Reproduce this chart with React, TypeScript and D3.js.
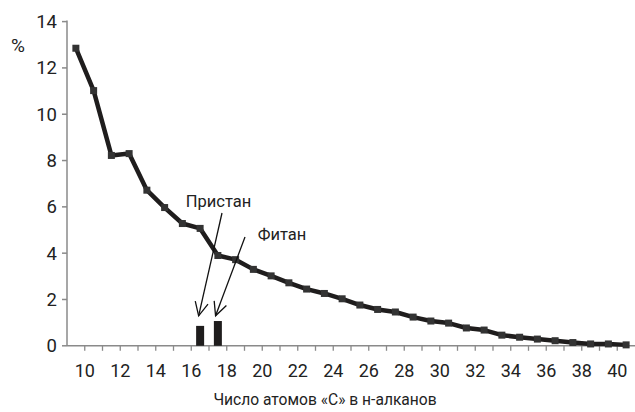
import React from "react";
import * as d3 from "d3";

const carbonNumbers = [10, 11, 12, 13, 14, 15, 16, 17, 18, 19, 20, 21, 22, 23, 24, 25, 26, 27, 28, 29, 30, 31, 32, 33, 34, 35, 36, 37, 38, 39, 40, 41];
const alkaneValues = [12.85, 11.02, 8.22, 8.3, 6.72, 5.97, 5.28, 5.07, 3.9, 3.72, 3.3, 3.02, 2.72, 2.45, 2.26, 2.03, 1.76, 1.57, 1.46, 1.24, 1.07, 0.98, 0.77, 0.68, 0.46, 0.37, 0.29, 0.22, 0.14, 0.08, 0.08, 0.04];
const isoprenoidNames = ["Пристан", "Фитан"];
const isoprenoidCarbon = [17, 18];
const isoprenoidValues = [0.86, 1.07];
const xTickLabels = [10, 12, 14, 16, 18, 20, 22, 24, 26, 28, 30, 32, 34, 36, 38, 40];
const yTicks = [0, 2, 4, 6, 8, 10, 12, 14];

const W = 635;
const H = 412;
const FONT = "Roboto, 'Liberation Sans', sans-serif";

export default function App() {
  const x = d3.scaleBand<number>().domain(carbonNumbers).range([67, 635]).paddingInner(0).paddingOuter(0);
  const y = d3.scaleLinear().domain([0, 14]).range([345.8, 21.6]);
  const bw = x.bandwidth();
  const cx = (c: number) => (x(c) as number) + bw / 2;

  const line = d3
    .line<number>()
    .x((_, i) => cx(carbonNumbers[i]))
    .y((d) => y(d));

  const axisColor = "#8a8a8a";
  const ink = "#1f1d1d";

  const labelPos = [
    { tx: 218.5, ty: 206.5, lx1: 222, ly1: 213, dx: -1.5 },
    { tx: 282, ty: 240, lx1: 245, ly1: 237, dx: -2.3 },
  ];

  return (
    <svg width={W} height={H} style={{ position: "absolute", left: 0, top: 0, background: "#fff" }} fontFamily={FONT}>
      {/* Y axis */}
      <line x1={67} x2={67} y1={y(14) - 1} y2={y(0)} stroke={axisColor} strokeWidth={1.5} />
      {yTicks.map((t) => (
        <g key={t}>
          <line x1={62} x2={67} y1={y(t)} y2={y(t)} stroke={axisColor} strokeWidth={1.5} />
          <text x={57} y={y(t) + 6.5} textAnchor="end" fontSize={18.5} fill="#222">
            {t}
          </text>
        </g>
      ))}
      <text x={18} y={52} textAnchor="middle" fontSize={19} fill="#222">%</text>

      {/* X axis */}
      <line x1={67} x2={635} y1={y(0)} y2={y(0)} stroke={axisColor} strokeWidth={1.5} />
      {carbonNumbers.slice(0, -1).map((c) => (
        <line key={c} x1={(x(c) as number) + bw} x2={(x(c) as number) + bw} y1={y(0)} y2={y(0) + 5} stroke={axisColor} strokeWidth={1.3} />
      ))}
      {xTickLabels.map((c) => (
        <text key={c} x={(x(c) as number) + bw} y={377} textAnchor="middle" fontSize={18} fill="#222">
          {c}
        </text>
      ))}
      <text x={325} y={405} textAnchor="middle" fontSize={15.6} fill="#222">
        Число атомов «С» в н-алканов
      </text>

      {/* isoprenoid bars */}
      {isoprenoidCarbon.map((c, i) => (
        <rect key={c} x={cx(c) - 4} width={8} y={y(isoprenoidValues[i])} height={y(0) - y(isoprenoidValues[i])} fill={ink} />
      ))}

      {/* alkane line */}
      <path d={line(alkaneValues) || ""} fill="none" stroke={ink} strokeWidth={4.5} strokeLinejoin="round" />
      {alkaneValues.map((v, i) => (
        <rect key={i} x={cx(carbonNumbers[i]) - 3.5} y={y(v) - 3.5} width={7} height={7} fill="#333" />
      ))}

      {/* annotations */}
      {isoprenoidCarbon.map((c, i) => {
        const p = labelPos[i];
        const tipX = cx(c) + p.dx;
        const tipY = y(0) - 30;
        const ang = Math.atan2(tipY - p.ly1, tipX - p.lx1);
        const wing = 15;
        const spread = 0.45;
        const w1x = tipX - wing * Math.cos(ang - spread);
        const w1y = tipY - wing * Math.sin(ang - spread);
        const w2x = tipX - wing * Math.cos(ang + spread);
        const w2y = tipY - wing * Math.sin(ang + spread);
        return (
          <g key={c}>
            <line x1={p.lx1} y1={p.ly1} x2={tipX} y2={tipY} stroke="#111" strokeWidth={1.3} />
            <polyline points={`${w1x},${w1y} ${tipX},${tipY} ${w2x},${w2y}`} fill="none" stroke="#111" strokeWidth={1.3} />
            <text x={p.tx} y={p.ty} textAnchor="middle" fontSize={16.5} fill="#222">
              {isoprenoidNames[i]}
            </text>
          </g>
        );
      })}
    </svg>
  );
}
